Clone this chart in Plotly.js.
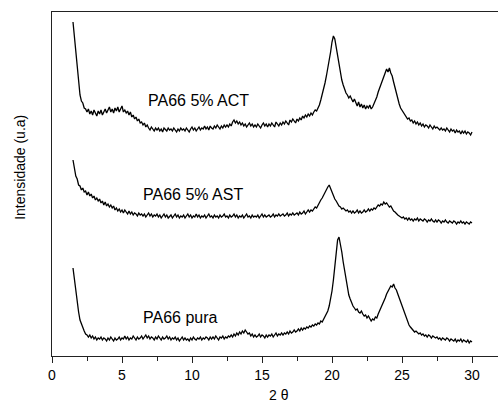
<!DOCTYPE html>
<html>
<head>
<meta charset="utf-8">
<script src="https://cdn.plot.ly/plotly-3.0.1.min.js"></script>
<style>
html,body{margin:0;padding:0;overflow:hidden;background:#fff;}
#chart{width:502px;height:405px;}
</style>
</head>
<body>
<div id="chart"></div>
<script>
// 2θ sampling (degrees)
var twoTheta = [
1.5,1.6,1.7,1.8,1.9,2.0,2.1,2.2,2.3,2.4,
2.5,2.6,2.7,2.8,2.9,3.0,3.1,3.2,3.3,3.4,
3.5,3.6,3.7,3.8,3.9,4.0,4.1,4.2,4.3,4.4,
4.5,4.6,4.7,4.8,4.9,5.0,5.1,5.2,5.3,5.4,
5.5,5.6,5.7,5.8,5.9,6.0,6.1,6.2,6.3,6.4,
6.5,6.6,6.7,6.8,6.9,7.0,7.1,7.2,7.3,7.4,
7.5,7.6,7.7,7.8,7.9,8.0,8.1,8.2,8.3,8.4,
8.5,8.6,8.7,8.8,8.9,9.0,9.1,9.2,9.3,9.4,
9.5,9.6,9.7,9.8,9.9,10.0,10.1,10.2,10.3,10.4,
10.5,10.6,10.7,10.8,10.9,11.0,11.1,11.2,11.3,11.4,
11.5,11.6,11.7,11.8,11.9,12.0,12.1,12.2,12.3,12.4,
12.5,12.6,12.7,12.8,12.9,13.0,13.1,13.2,13.3,13.4,
13.5,13.6,13.7,13.8,13.9,14.0,14.1,14.2,14.3,14.4,
14.5,14.6,14.7,14.8,14.9,15.0,15.1,15.2,15.3,15.4,
15.5,15.6,15.7,15.8,15.9,16.0,16.1,16.2,16.3,16.4,
16.5,16.6,16.7,16.8,16.9,17.0,17.1,17.2,17.3,17.4,
17.5,17.6,17.7,17.8,17.9,18.0,18.1,18.2,18.3,18.4,
18.5,18.6,18.7,18.8,18.9,19.0,19.1,19.2,19.3,19.4,
19.5,19.6,19.7,19.8,19.9,20.0,20.1,20.2,20.3,20.4,
20.5,20.6,20.7,20.8,20.9,21.0,21.1,21.2,21.3,21.4,
21.5,21.6,21.7,21.8,21.9,22.0,22.1,22.2,22.3,22.4,
22.5,22.6,22.7,22.8,22.9,23.0,23.1,23.2,23.3,23.4,
23.5,23.6,23.7,23.8,23.9,24.0,24.1,24.2,24.3,24.4,
24.5,24.6,24.7,24.8,24.9,25.0,25.1,25.2,25.3,25.4,
25.5,25.6,25.7,25.8,25.9,26.0,26.1,26.2,26.3,26.4,
26.5,26.6,26.7,26.8,26.9,27.0,27.1,27.2,27.3,27.4,
27.5,27.6,27.7,27.8,27.9,28.0,28.1,28.2,28.3,28.4,
28.5,28.6,28.7,28.8,28.9,29.0,29.1,29.2,29.3,29.4,
29.5,29.6,29.7,29.8,29.9,30.0
];

// Intensities (arbitrary units, stacked offsets as in the figure)
var pa66ACT = [
334,318,304,287,271,261,255,253,248,247,
244,247,242,245,241,246,243,240,245,242,
246,241,244,247,243,246,249,244,247,243,
248,245,249,244,247,250,244,246,243,245,
241,244,239,241,237,239,235,237,233,234,
231,233,229,231,228,226,229,227,225,228,
226,228,225,227,224,228,226,225,228,226,
227,225,228,226,224,227,225,228,226,227,
225,228,226,224,227,229,226,228,225,227,
229,226,228,227,230,227,229,226,230,228,
227,230,228,231,229,227,230,228,231,229,
231,229,232,230,234,236,233,235,232,234,
231,233,230,232,229,231,233,230,232,229,
231,229,232,230,228,231,233,230,232,229,
232,230,233,231,229,234,232,230,233,231,
234,232,235,233,231,236,234,237,235,233,
237,235,238,236,240,238,241,239,242,240,
243,241,244,246,245,248,251,256,261,266,
273,280,287,295,304,314,320,317,309,301,
290,282,276,271,266,263,261,258,260,256,
254,257,253,250,254,249,252,248,251,247,
250,248,251,247,249,252,256,259,264,268,
271,275,279,283,287,284,288,283,280,274,
268,262,256,252,248,246,243,241,239,237,
238,235,236,233,235,232,234,231,233,230,
232,229,231,230,228,231,229,227,230,228,
229,227,226,228,226,227,225,228,226,224,
227,225,226,223,226,224,225,222,225,223,
225,222,224,223,221,224
];

var pa66AST = [
196,188,180,177,171,170,166,168,164,165,
161,164,160,162,158,160,156,158,155,157,
153,155,151,154,150,152,149,151,148,150,
146,148,145,147,144,146,143,146,144,142,
145,142,144,141,143,142,140,143,141,142,
140,142,139,141,143,140,142,139,141,140,
142,139,141,138,140,142,139,141,138,140,
141,138,140,142,139,141,138,140,139,141,
138,140,142,139,141,138,140,139,142,139,
141,138,140,139,141,138,140,142,139,140,
138,141,139,140,138,141,139,140,142,139,
140,138,141,139,140,142,139,141,138,140,
139,141,138,140,142,139,140,138,141,139,
140,139,141,138,140,142,139,141,139,140,
141,139,140,142,139,141,140,142,140,141,
142,140,141,143,140,142,141,143,141,142,
143,141,144,142,143,145,142,144,146,144,
146,145,147,149,148,151,153,156,158,161,
163,166,169,171,167,164,160,157,155,152,
150,149,147,148,146,145,146,144,145,143,
145,143,144,146,143,145,143,144,146,144,
145,147,145,147,146,148,147,149,151,150,
152,151,154,152,153,151,149,150,147,145,
144,142,141,140,139,138,139,137,138,136,
138,136,137,135,137,136,138,135,137,136,
135,137,136,134,136,135,137,135,134,136,
134,136,135,133,135,134,136,134,133,135,
134,133,135,134,132,134,133,135,133,134,
132,134,133,132,134,133
];

var pa66Pura = [
88,76,63,51,44,36,32,27,25,22,
21,19,21,18,20,17,19,16,18,17,
19,16,18,17,15,18,16,19,17,15,
18,16,17,19,16,18,17,20,17,19,
16,18,17,20,18,16,19,17,18,20,
17,19,21,18,20,17,19,18,16,19,
17,20,18,16,19,17,18,20,17,19,
16,18,17,19,16,18,15,17,19,16,
18,16,17,15,18,16,19,17,16,18,
17,19,16,18,17,19,18,16,19,17,
19,17,20,18,16,19,18,20,17,19,
18,20,19,21,19,22,20,23,21,24,
22,25,23,26,24,22,23,20,22,19,
21,19,20,22,19,21,20,18,21,19,
21,20,22,19,21,23,20,22,21,23,
21,23,22,24,22,25,23,24,26,24,
25,27,25,28,26,28,27,29,28,30,
29,31,30,32,31,33,32,35,34,37,
39,42,45,50,56,65,76,92,106,116,
119,112,104,94,85,76,68,61,57,53,
50,48,46,47,44,43,45,42,40,41,
38,40,37,35,37,36,39,38,42,45,
48,51,55,58,62,65,67,70,69,72,
68,66,62,58,54,50,46,42,38,35,
31,29,27,26,24,25,23,22,23,21,
22,20,21,19,21,20,18,20,19,18,
19,17,18,16,18,17,16,18,17,15,
17,16,15,17,14,16,15,17,14,16,
15,14,16,13,15,14
];

var seriesNames = ["PA66 5% ACT", "PA66 5% AST", "PA66 pura"];
var labelX = [10.43, 10.07, 9.2];
var labelY = [256, 162, 39];
var xTickVals = [0, 5, 10, 15, 20, 25, 30];
var xTickText = ["0", "5", "10", "15", "20", "25", "30"];

var FONT = "Liberation Sans, Arial, sans-serif";
var series = [pa66ACT, pa66AST, pa66Pura];
var traces = series.map(function (ys, i) {
  return {
    x: twoTheta, y: ys, type: "scatter", mode: "lines", name: seriesNames[i],
    line: {color: "#000", width: 1.3}, hoverinfo: "skip"
  };
});

var annotations = seriesNames.map(function (t, i) {
  return {x: labelX[i], y: labelY[i], xref: "x", yref: "y", text: t,
    showarrow: false, xanchor: "center", yanchor: "middle",
    font: {family: FONT, size: 16, color: "#000"}};
});
annotations.push({x: -0.0714, y: 0.547, xref: "paper", yref: "paper",
  text: "Intensidade (u.a)", textangle: -90, showarrow: false,
  xanchor: "center", yanchor: "middle", font: {family: FONT, size: 14, color: "#000"}});
annotations.push({x: 0.507, y: -0.113, xref: "paper", yref: "paper",
  text: "2 θ", showarrow: false, xanchor: "center", yanchor: "middle",
  font: {family: FONT, size: 14, color: "#000"}});

var layout = {
  width: 502, height: 405,
  margin: {l: 52, r: 2, t: 12, b: 49},
  paper_bgcolor: "#fff", plot_bgcolor: "#fff",
  showlegend: false,
  font: {family: FONT, size: 14, color: "#000"},
  xaxis: {
    range: [0, 32], showgrid: false, zeroline: false,
    showline: true, linecolor: "#222", linewidth: 1, mirror: true,
    tickmode: "array", tickvals: xTickVals, ticktext: xTickText,
    ticks: "outside", ticklen: 6, tickwidth: 1, tickcolor: "#222",
    tickfont: {family: FONT, size: 14, color: "#000"},
    minor: {dtick: 2.5, tick0: 0, ticks: "outside", ticklen: 4, tickwidth: 1, tickcolor: "#222", showgrid: false}
  },
  yaxis: {
    range: [0, 344], showgrid: false, zeroline: false,
    showline: true, linecolor: "#222", linewidth: 1, mirror: true,
    ticks: "", showticklabels: false
  },
  annotations: annotations
};

Plotly.newPlot("chart", traces, layout, {displayModeBar: false, staticPlot: true});
</script>
</body>
</html>
